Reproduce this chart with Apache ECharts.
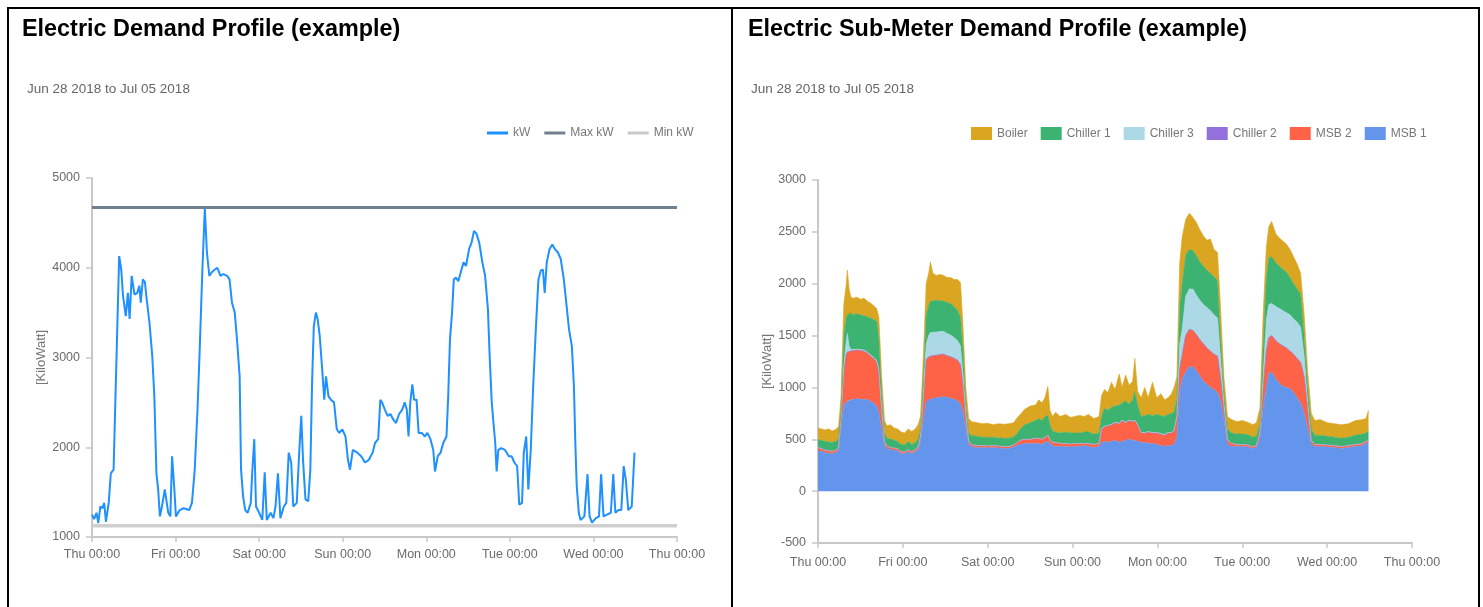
<!DOCTYPE html>
<html><head><meta charset="utf-8">
<script src="https://cdn.jsdelivr.net/npm/echarts@6/dist/echarts.min.js"></script>
<style>
html,body{margin:0;padding:0;background:#fff;overflow:hidden;}
#c{position:absolute;left:0;top:0;width:1483px;height:607px;}
.b{position:absolute;background:#000;pointer-events:none;}
</style></head><body>
<div id="c"></div>
<div class="b" style="left:7px;top:7px;width:1473px;height:2px"></div>
<div class="b" style="left:7px;top:7px;width:2px;height:600px"></div>
<div class="b" style="left:731px;top:7px;width:2px;height:600px"></div>
<div class="b" style="left:1478px;top:7px;width:2px;height:600px"></div>
<script>
// ---------- data ----------
const xTickLabels = ['Thu 00:00','Fri 00:00','Sat 00:00','Sun 00:00','Mon 00:00','Tue 00:00','Wed 00:00','Thu 00:00'];
const leftTitle = 'Electric Demand Profile (example)';
const rightTitle = 'Electric Sub-Meter Demand Profile (example)';
const dateRange = 'Jun 28 2018 to Jul 05 2018';
const leftLegend = ['kW','Max kW','Min kW'];
const rightLegend = ['Boiler','Chiller 1','Chiller 3','Chiller 2','MSB 2','MSB 1'];

// hours since Thu 00:00 (Jun 28 2018)
const kwHours = [0,0.6,1.3,1.8,2.4,3.0,3.5,4.0,4.8,5.4,6.2,6.7,7.3,7.8,8.4,8.9,9.7,10.3,10.8,11.4,12.2,13.0,13.6,14.0,14.6,15.2,15.7,16.5,17.3,17.9,18.5,19.0,19.5,20.1,20.9,21.4,21.9,22.5,23.0,23.6,24.1,25.2,26.3,27.9,28.7,29.5,30.3,30.9,31.7,32.4,33.0,33.7,34.4,35.3,36.0,36.9,37.7,38.8,39.5,40.2,41.0,41.7,42.4,42.8,43.4,44.0,44.7,45.6,46.0,46.6,47.1,48.0,48.9,49.6,50.2,51.3,52.1,52.7,53.4,54.1,55.1,55.8,56.5,57.2,57.8,58.8,59.5,60.1,60.6,61.3,62.1,62.7,63.2,63.7,64.3,64.8,65.4,66.1,66.7,67.2,67.9,68.6,69.5,70.3,71.0,71.9,72.8,73.5,74.1,74.9,76.2,77.3,78.4,79.5,80.6,81.3,82.2,82.8,83.3,84.1,84.9,85.7,86.5,87.3,88.2,89.1,89.8,90.4,90.9,91.4,92.0,92.5,93.2,93.8,94.7,95.6,96.3,97.2,98.0,98.5,99.3,100.1,100.9,101.8,102.3,102.8,103.4,103.9,104.5,105.2,105.9,106.7,107.4,108.3,109.0,109.7,110.4,111.2,112.1,112.9,113.7,114.2,114.8,115.3,115.8,116.2,116.7,117.5,118.6,119.7,120.5,121.3,122.1,122.7,123.5,124.0,124.7,125.3,126.0,126.7,127.5,128.2,128.9,129.5,130.0,130.6,131.4,132.2,132.9,133.8,134.6,135.5,136.2,137.0,137.8,138.4,138.8,139.2,139.8,140.3,141.4,142.3,142.9,143.6,144.7,145.6,146.2,146.9,147.9,149.0,149.7,150.3,151.2,152.0,152.7,153.3,154.0,155.0,155.8];
const kwValues = [1250,1200,1270,1155,1340,1320,1380,1170,1380,1710,1750,2500,3390,4130,3980,3690,3460,3720,3430,3910,3700,3720,3800,3610,3870,3840,3650,3390,3020,2570,1710,1530,1230,1340,1530,1530,1270,1230,1900,1560,1230,1300,1320,1300,1380,1750,2420,3050,3980,4660,4170,3910,3950,3980,4000,3910,3930,3910,3870,3610,3500,3170,2790,1750,1450,1300,1270,1380,1710,2090,1340,1270,1190,1720,1190,1270,1210,1340,1710,1210,1340,1380,1940,1830,1340,1380,1940,2350,1860,1420,1400,1750,2720,3350,3500,3430,3240,2870,2530,2790,2570,2530,2500,2200,2160,2200,2120,1860,1750,1970,1940,1900,1830,1860,1940,2050,2090,2530,2500,2420,2350,2370,2310,2270,2370,2420,2500,2420,2120,2500,2700,2530,2530,2160,2160,2120,2160,2090,1970,1730,1900,1940,2050,2120,2570,3200,3500,3870,3890,3850,3950,4060,4020,4210,4280,4410,4380,4280,4060,3910,3540,3020,2500,2270,2050,1730,1970,1990,1970,1900,1900,1830,1790,1360,1380,1940,2120,1530,1970,2680,3350,3870,3970,3980,3720,4060,4210,4260,4210,4170,4100,3870,3610,3310,3130,2680,2050,1570,1270,1190,1230,1700,1230,1160,1210,1230,1700,1230,1250,1270,1700,1270,1300,1300,1790,1640,1300,1340,1940];
const maxKw = 4670;
const minKw = 1125;

// sub-meter profile (hours since Thu 00:00)
const subHours = [0,1,2,3,4,5,5.8,6.5,7.3,8.0,8.3,8.8,9.3,10,11,12,13,14,15,16,16.6,17.2,18,18.8,19.5,20.5,21.5,22.5,23.5,24.5,25.5,26.5,27.5,28.3,29.0,29.8,30.6,31.3,31.8,32.5,33.5,34.5,35.5,36.5,37.5,38.5,39.5,40.3,41.0,41.8,42.6,43.5,45,46.5,48,49.5,51,52.5,54,55.3,56.2,57.2,58.5,60,61.5,62.5,63.3,64.2,65.0,65.6,66.3,67.2,68.5,70,71.5,72.5,74,75.3,76.5,78,79.5,80.2,81,82,83,84,85.2,86,87,88,89,89.6,90.4,91.4,92.4,93.4,94.6,95.8,97,98,99,100,100.7,101.5,102.3,103,104,105,106,107,108,109,110,111,112,113,113.8,114.8,115.8,117,118.5,120,121.5,123,124,125,125.9,126.8,127.5,128.3,129.5,130.5,131.5,132.5,133.5,134.5,135.5,136.5,137.5,138.5,139.5,140.5,142,144,146,148,150,152,154,155,155.7];
const msb1 = [390,385,370,365,360,370,390,600,830,860,870,875,880,885,890,885,885,880,865,840,820,760,600,440,410,400,395,390,360,360,380,360,380,400,480,680,860,880,885,895,900,905,910,905,895,885,870,840,760,600,450,425,420,420,415,420,415,410,410,425,440,450,460,460,460,460,450,470,480,460,440,430,430,430,425,430,430,440,430,420,430,470,480,470,480,490,470,480,490,500,490,490,480,470,470,460,460,450,440,430,440,440,450,520,950,1080,1150,1200,1200,1160,1110,1060,1030,1000,980,950,880,700,450,430,430,430,425,410,420,500,800,1000,1130,1150,1080,1040,1010,1000,990,950,900,850,750,600,450,430,430,425,420,410,420,430,440,460,470];
const msb2 = [30,25,25,25,25,25,25,80,320,460,470,470,470,470,470,470,465,450,435,430,430,390,160,30,25,20,20,20,20,20,20,20,20,25,40,200,410,415,415,410,410,410,410,400,400,395,390,380,270,100,30,20,20,20,20,20,20,20,20,20,25,40,40,40,50,50,50,50,60,40,30,40,30,30,30,30,30,20,30,30,30,130,140,160,160,170,180,200,170,180,180,190,160,90,90,110,100,110,110,110,120,120,130,180,230,230,350,360,350,350,350,360,350,350,340,350,220,100,40,30,20,20,20,20,20,60,200,350,350,350,370,380,390,380,360,370,380,390,350,200,30,20,20,20,20,20,20,20,20,20,20];
const chiller2 = [0,0,0,0,0,0,0,0,0,0,0,0,0,0,0,0,0,0,0,0,0,0,0,0,0,0,0,0,0,0,0,0,0,0,0,0,0,0,0,0,0,0,0,0,0,0,0,0,0,0,0,0,0,0,0,0,0,0,0,0,0,0,0,0,0,0,0,0,0,0,0,0,0,0,0,0,0,0,0,0,0,0,0,0,0,0,0,0,0,0,0,0,0,0,0,0,0,0,0,0,0,0,0,0,0,0,0,0,0,0,0,0,0,0,0,0,0,0,0,0,0,0,0,0,0,0,0,0,0,0,0,0,0,0,0,0,0,0,0,0,0,0,0,0,0,0,0,0,0,0,0];
const chiller3 = [0,0,0,0,0,0,0,10,50,130,180,55,15,10,10,10,10,10,10,10,10,20,40,5,0,0,0,0,0,0,0,0,0,0,10,60,150,205,230,225,225,225,220,215,210,200,190,180,100,50,5,0,0,0,0,0,0,0,0,0,0,0,0,0,0,0,0,0,0,0,0,0,0,0,0,0,0,0,0,0,0,5,5,5,5,5,5,5,5,5,5,5,5,5,5,5,5,5,5,5,5,5,5,20,240,250,380,390,400,380,380,380,390,390,380,370,200,50,10,0,0,0,0,0,0,10,100,300,320,310,330,340,340,340,350,340,350,340,200,50,10,0,0,0,0,0,0,0,0,0,0];
const chiller1 = [75,80,85,85,85,85,85,90,300,230,180,320,345,335,340,335,330,340,360,370,380,310,150,85,75,85,75,70,70,65,80,70,70,75,70,140,280,290,300,305,305,295,290,300,305,300,290,280,250,100,75,90,90,80,85,80,80,80,80,80,85,110,140,160,170,190,180,200,190,140,110,100,100,110,105,100,100,110,110,100,100,115,175,145,165,155,175,165,205,155,205,275,185,155,165,165,165,175,175,175,175,185,175,180,360,440,400,380,370,380,370,370,360,360,370,360,200,100,100,100,100,100,100,90,90,80,300,400,450,450,420,410,400,390,360,340,320,320,200,150,110,90,90,85,80,80,80,90,90,80,90];
const boiler = [115,110,110,125,110,115,120,120,300,320,430,230,160,160,160,150,170,150,140,130,120,200,150,120,120,135,120,120,120,115,120,125,130,140,120,220,300,310,380,265,240,255,250,240,250,260,300,330,220,150,140,135,130,130,135,120,135,135,140,135,150,140,150,160,150,180,170,180,280,140,140,190,160,170,150,160,170,150,170,150,160,200,180,170,240,160,300,150,250,180,180,320,130,180,270,160,320,160,210,160,160,190,240,200,420,450,340,350,320,320,310,290,290,330,260,270,300,150,120,130,120,130,120,120,130,150,300,300,300,340,280,270,270,270,270,260,240,200,200,150,150,140,150,130,130,130,130,140,140,140,200];

// ---------- chart ----------
const FONT = "'Liberation Sans',Arial,sans-serif";
const labelColor = '#6b6b6b';
const HOUR = 3600000, DAY = 24 * HOUR;
const t0 = new Date(2018, 5, 28).getTime();
const pairH = (xs, ys) => xs.map((x, i) => [x, ys[i]]);
const pairT = (xs, ys) => xs.map((x, i) => [t0 + x * HOUR, ys[i]]);

const axisLineStyle = {color:'#c8c8c8', width:2};
function yAxisCfg(gi, min, max, step){
  return {
    type:'value', gridIndex:gi, min:min, max:max, interval:step,
    name:'[KiloWatt]', nameLocation:'middle', nameRotate:90, nameGap:38,
    nameTextStyle:{color:'#777', fontFamily:FONT, fontSize:13},
    axisLine:{show:true, lineStyle:axisLineStyle},
    axisTick:{show:true, length:6, lineStyle:{color:'#c8c8c8', width:1.5}},
    axisLabel:{color:labelColor, fontFamily:FONT, fontSize:12.5, margin:12, formatter:v => String(v)},
    splitLine:{show:false}
  };
}

const subColors = {'MSB 1':'#6495ED','MSB 2':'#FF6347','Chiller 2':'#9370DB','Chiller 3':'#ADD8E6','Chiller 1':'#3CB371','Boiler':'#DAA520'};
const subSeriesData = [['MSB 1', msb1],['MSB 2', msb2],['Chiller 2', chiller2],['Chiller 3', chiller3],['Chiller 1', chiller1],['Boiler', boiler]];

const option = {
  animation:false,
  backgroundColor:'#fff',
  title:[
    {text:leftTitle, left:17, top:13, textStyle:{fontFamily:FONT, fontWeight:'bold', fontSize:23.4, color:'#000'}},
    {text:rightTitle, left:743, top:13, textStyle:{fontFamily:FONT, fontWeight:'bold', fontSize:23.4, color:'#000'}},
    {text:dateRange, left:22, top:77, textStyle:{fontFamily:FONT, fontWeight:'normal', fontSize:13.5, color:'#666'}},
    {text:dateRange, left:746, top:77, textStyle:{fontFamily:FONT, fontWeight:'normal', fontSize:13.5, color:'#666'}}
  ],
  legend:[
    {data:leftLegend, left:482, top:122, itemWidth:21, itemHeight:3, itemGap:14, icon:'rect',
     textStyle:{color:'#777', fontFamily:FONT, fontSize:12}, selectedMode:false},
    {data:rightLegend, left:966, top:122, itemWidth:21, itemHeight:13, itemGap:13, icon:'rect',
     textStyle:{color:'#777', fontFamily:FONT, fontSize:12}, selectedMode:false}
  ],
  grid:[
    {left:92, top:178, width:585, height:359},
    {left:818, top:180, width:594, height:363}
  ],
  xAxis:[
    {type:'value', gridIndex:0, min:0, max:168, interval:24,
     axisLine:{show:true, onZero:false, lineStyle:axisLineStyle},
     axisTick:{show:true, length:5, lineStyle:{color:'#c8c8c8', width:1.5}},
     axisLabel:{color:labelColor, fontFamily:FONT, fontSize:12.5, margin:11,
       formatter:v => xTickLabels[Math.round(v/24)]},
     splitLine:{show:false}},
    {type:'time', gridIndex:1, min:t0, max:t0 + 7*DAY, minInterval:DAY, maxInterval:DAY,
     axisLine:{show:true, onZero:false, lineStyle:axisLineStyle},
     axisTick:{show:true, length:5, lineStyle:{color:'#c8c8c8', width:1.5}},
     axisLabel:{color:labelColor, fontFamily:FONT, fontSize:12.5, margin:13, interval:0,
       showMinLabel:true, showMaxLabel:true,
       formatter:v => xTickLabels[Math.round((v - t0)/DAY)] || ''},
     splitLine:{show:false}}
  ],
  yAxis:[yAxisCfg(0,1000,5000,1000), yAxisCfg(1,-500,3000,500)],
  series:[
    {name:'kW', type:'line', xAxisIndex:0, yAxisIndex:0, z:5, showSymbol:false, symbol:'none',
     color:'#1E90FF', lineStyle:{color:'#1E90FF', width:2}, data:pairH(kwHours, kwValues)},
    {name:'Max kW', type:'line', xAxisIndex:0, yAxisIndex:0, z:3, showSymbol:false, symbol:'none',
     color:'#708090', lineStyle:{color:'#708090', width:3}, data:[[0,maxKw],[168,maxKw]]},
    {name:'Min kW', type:'line', xAxisIndex:0, yAxisIndex:0, z:3, showSymbol:false, symbol:'none',
     color:'#c8c8c8', lineStyle:{color:'#cfcfcf', width:3.5}, data:[[0,minKw],[168,minKw]]},
    ...subSeriesData.map(([name, vals]) => ({
      name, type:'line', xAxisIndex:1, yAxisIndex:1, stack:'sub', showSymbol:false, symbol:'none',
      color:subColors[name], lineStyle:{width:0.6, color:subColors[name]},
      areaStyle:{color:subColors[name], opacity:1},
      data:pairT(subHours, vals)
    }))
  ]
};
const chart = echarts.init(document.getElementById('c'), null, {renderer:'canvas'});
chart.setOption(option);
</script>
</body></html>
